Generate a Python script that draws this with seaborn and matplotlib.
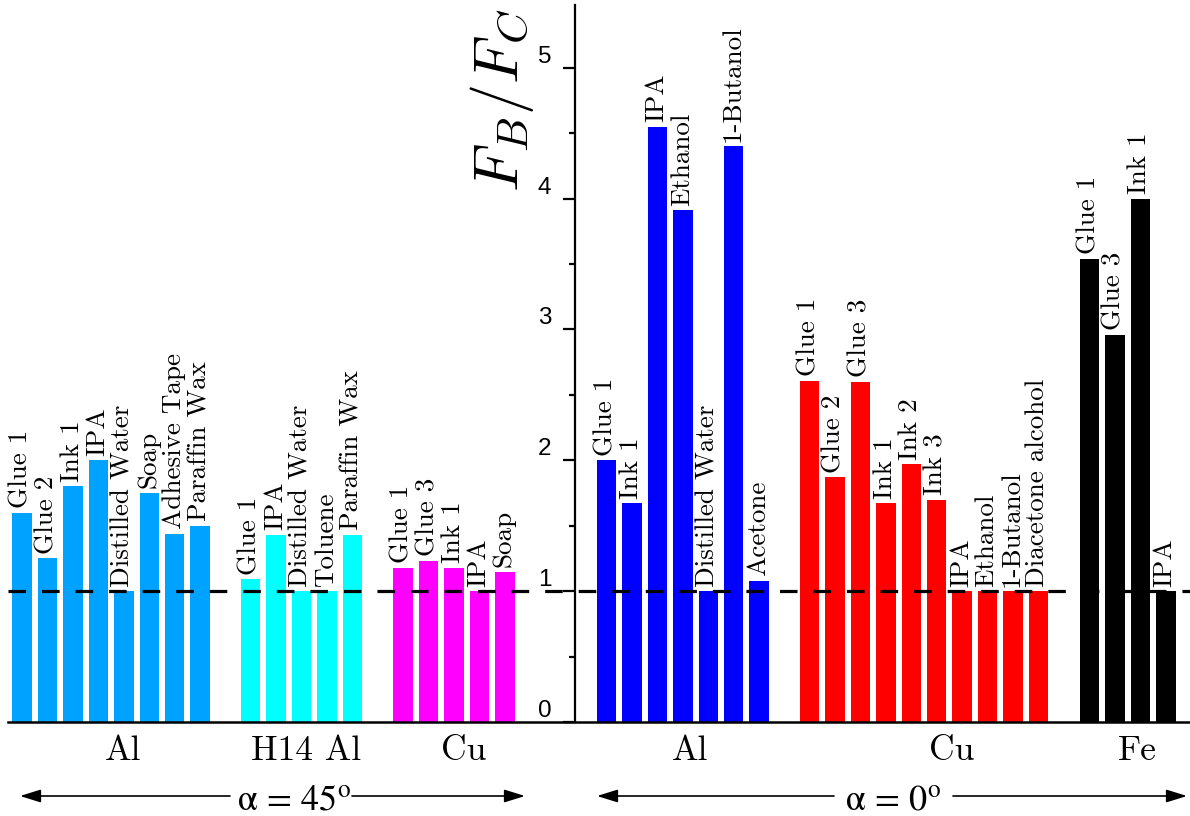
import numpy as np
import pandas as pd
import matplotlib
matplotlib.use("Agg")
import matplotlib.pyplot as plt
import matplotlib.transforms as mtransforms
import seaborn as sns

# ---------------- data ----------------
al45_labels = ["Glue 1", "Glue 2", "Ink 1", "IPA", "Distilled Water", "Soap",
               "Adhesive Tape", "Paraffin Wax"]
al45_values = [1.60, 1.25, 1.80, 2.00, 1.00, 1.75, 1.44, 1.50]

h14_labels = ["Glue 1", "IPA", "Distilled Water", "Toluene", "Paraffin Wax"]
h14_values = [1.09, 1.43, 1.00, 1.00, 1.43]

cu45_labels = ["Glue 1", "Glue 3", "Ink 1", "IPA", "Soap"]
cu45_values = [1.18, 1.23, 1.18, 1.00, 1.15]

al0_labels = ["Glue 1", "Ink 1", "IPA", "Ethanol", "Distilled Water",
              "1-Butanol", "Acetone"]
al0_values = [2.00, 1.67, 4.55, 3.91, 1.00, 4.40, 1.08]

cu0_labels = ["Glue 1", "Glue 2", "Glue 3", "Ink 1", "Ink 2", "Ink 3", "IPA",
              "Ethanol", "1-Butanol", "Diacetone alcohol"]
cu0_values = [2.61, 1.87, 2.60, 1.67, 1.97, 1.70, 1.00, 1.00, 1.00, 1.00]

fe_labels = ["Glue 1", "Glue 3", "Ink 1", "IPA"]
fe_values = [3.54, 2.96, 4.00, 1.00]

group_names = ["Al", "H14 Al", "Cu", "Al", "Cu", "Fe"]
angle_labels = [r"$\mathrm{\alpha\,=\,45^{o}}$", r"$\mathrm{\alpha\,=\,0^{o}}$"]
y_ticks = [0, 1, 2, 3, 4, 5]
y_label = r"$F_B/F_C$"

# ---------------- layout / style ----------------
W, H = 1190, 816
group_keys = ["Al45", "H14Al45", "Cu45", "Al0", "Cu0", "Fe0"]
group_colors = ["#00A2FF", "#00FFFF", "#FF00FF", "#0000FF", "#FF0000", "#000000"]
group_first = [22, 250.5, 403, 606.5, 809.5, 1089.5]   # x of first bar (px)
pitch = 25.45
bar_w = 19.5
group_label_x = [123, 306, 464, 690, 952, 1137]

all_labels = [al45_labels, h14_labels, cu45_labels, al0_labels, cu0_labels, fe_labels]
all_values = [al45_values, h14_values, cu45_values, al0_values, cu0_values, fe_values]

rows = []
for key, x0, labs, vals in zip(group_keys, group_first, all_labels, all_values):
    for i, (lab, v) in enumerate(zip(labs, vals)):
        rows.append({"group": key, "pos": x0 + i * pitch, "label": lab, "value": v})
df = pd.DataFrame(rows)

sns.set_style("ticks", {"axes.edgecolor": "black", "xtick.color": "black",
                        "ytick.color": "black", "text.color": "black"})
plt.rcParams["font.family"] = ["cmr10", "DejaVu Serif"]
plt.rcParams["axes.formatter.use_mathtext"] = True

fig = plt.figure(figsize=(W / 100, H / 100), dpi=100)
y0_px = 722          # pixel row of y = 0 (from top)
top_px = 5
ax = fig.add_axes([0, (H - y0_px) / H, 1, (y0_px - top_px) / H])
ax.set_facecolor("none")

sns.barplot(data=df, x="pos", y="value", hue="group", hue_order=group_keys,
            palette=dict(zip(group_keys, group_colors)), native_scale=True,
            dodge=False, width=bar_w / pitch, errorbar=None, legend=False,
            saturation=1, linewidth=0, ax=ax, zorder=2)

ax.set_xlim(0, W)
ax.set_ylim(0, 5.48)

# dashed reference line at 1
ax.axhline(1, xmin=8 / W, xmax=1, color="black", lw=2.3,
           ls=(0, (5.5, 5.0)), zorder=3)

# spines
ax.spines["top"].set_visible(False)
ax.spines["right"].set_visible(False)
ax.spines["left"].set_position(("data", 575))
ax.spines["left"].set_linewidth(1.6)
ax.spines["bottom"].set_linewidth(1.8)
ax.spines["bottom"].set_bounds(8, W)
for s in ("left", "bottom"):
    ax.spines[s].set_zorder(5)
    ax.spines[s].set_color("black")

ax.set_xticks([])
ax.set_xlabel("")
ax.set_ylabel("")
ax.set_yticks(y_ticks)
ax.set_yticks(np.arange(0.5, 5.0, 1.0), minor=True)
ax.tick_params(axis="y", which="major", direction="out", length=9, width=1.6,
               pad=8, labelsize=17.5, color="black", labelcolor="black")
ax.tick_params(axis="y", which="minor", direction="out", length=4.5, width=1.6,
               color="black")
ax.set_yticklabels([str(t) for t in y_ticks])
for lab in ax.get_yticklabels():
    lab.set_fontfamily("Liberation Sans")
    lab.set_va("bottom")

# bar labels
for _, r in df.iterrows():
    ax.text(r["pos"] - 1, r["value"] + 0.035, r["label"], rotation=90,
            ha="center", va="bottom", fontsize=19.5, color="black", zorder=4)

# y-axis title
fig.text(502 / W, 1 - 100 / H, y_label, rotation=90, ha="center", va="center",
         fontsize=45, math_fontfamily="cm", color="black")

# group names below the axis
blend = mtransforms.blended_transform_factory(ax.transData, fig.transFigure)
for name, gx in zip(group_names, group_label_x):
    ax.text(gx, 1 - 760 / H, name, transform=blend, ha="center", va="baseline",
            fontsize=25.5, clip_on=False, color="black")

# angle arrows
arrow_y = 1 - 796 / H
arrows = [(230, 20), (352, 525), (834, 597), (953, 1187)]
for xs, xe in arrows:
    ax.annotate("", xy=(xe, arrow_y), xytext=(xs, arrow_y), xycoords=blend,
                textcoords=blend,
                arrowprops=dict(arrowstyle="-|>,head_length=0.9,head_width=0.28",
                                lw=1.2, color="black", shrinkA=0, shrinkB=0,
                                mutation_scale=14),
                annotation_clip=False)
for txt, tx in zip(angle_labels, [294, 893]):
    ax.text(tx, 1 - 810 / H, txt, transform=blend, ha="center", va="baseline",
            fontsize=26, math_fontfamily="stix", clip_on=False, color="black")

fig.savefig("out.png", dpi=100)
